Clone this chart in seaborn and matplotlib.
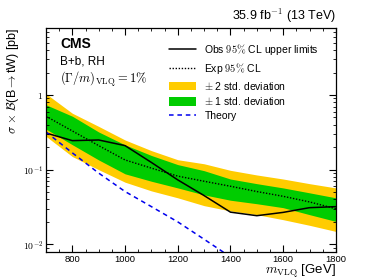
import matplotlib
matplotlib.use('Agg')
import matplotlib.pyplot as plt
from matplotlib.ticker import MultipleLocator, FixedLocator, FixedFormatter, NullFormatter, LogLocator
import pandas as pd
import seaborn as sns

# Data
mass = [700, 800, 900, 1000, 1100, 1200, 1300, 1400, 1500, 1600, 1700, 1800]
obs = [0.31, 0.245, 0.25, 0.21, 0.125, 0.073, 0.045, 0.027, 0.0242, 0.0268, 0.031, 0.032]
exp = [0.52, 0.33, 0.21, 0.135, 0.105, 0.082, 0.07, 0.06, 0.051, 0.044, 0.037, 0.030]
one_up = [0.74, 0.52, 0.32, 0.215, 0.155, 0.117, 0.097, 0.075, 0.065, 0.057, 0.049, 0.042]
one_lo = [0.35, 0.216, 0.135, 0.088, 0.07, 0.057, 0.046, 0.039, 0.035, 0.031, 0.025, 0.0203]
two_up = [1.04, 0.57, 0.38, 0.25, 0.18, 0.136, 0.12, 0.098, 0.085, 0.075, 0.065, 0.057]
two_lo = [0.28, 0.15, 0.10, 0.068, 0.052, 0.042, 0.033, 0.028, 0.025, 0.0214, 0.018, 0.0149]
theory_mass = [700, 800, 900, 1000, 1100, 1200, 1300, 1400]
theory = [0.32, 0.168, 0.09, 0.051, 0.032, 0.020, 0.0117, 0.0068]

df = pd.DataFrame({'mass': mass, 'obs': obs, 'exp': exp})
df_th = pd.DataFrame({'mass': theory_mass, 'theory': theory})

sns.set_style('ticks')
plt.rcParams['font.family'] = ['Liberation Sans', 'DejaVu Sans']
plt.rcParams['mathtext.fontset'] = 'cm'
plt.rcParams['text.color'] = 'black'

fig = plt.figure(figsize=(3.74, 2.80), dpi=100)
ax = fig.add_axes([0.123, 0.1, 0.775, 0.8])
ax.set_axisbelow(False)

ax.fill_between(mass, two_lo, two_up, color='#FFCC00', lw=0, label=r'$\pm$ 2 std. deviation')
ax.fill_between(mass, one_lo, one_up, color='#00CC00', lw=0, label=r'$\pm$ 1 std. deviation')
sns.lineplot(data=df, x='mass', y='exp', ax=ax, color='black', lw=1.0, ls=(0, (1, 1.2)),
             label=r'Exp $95\%$ CL')
sns.lineplot(data=df, x='mass', y='obs', ax=ax, color='black', lw=1.1,
             label=r'Obs $95\%$ CL upper limits')
sns.lineplot(data=df_th, x='mass', y='theory', ax=ax, color='#0000EE', lw=1.1, ls=(0, (3, 2.5)),
             label='Theory')

ax.set_yscale('log')
ax.set_xlim(700, 1800)
ax.set_ylim(0.0079, 7.9)

ax.xaxis.set_major_locator(MultipleLocator(200))
ax.xaxis.set_minor_locator(MultipleLocator(50))
ax.yaxis.set_major_locator(FixedLocator([0.01, 0.1, 1]))
ax.yaxis.set_major_formatter(FixedFormatter([r'$10^{-2}$', r'$10^{-1}$', r'$1$']))
ax.yaxis.set_minor_locator(LogLocator(base=10, subs=range(2, 10)))
ax.yaxis.set_minor_formatter(NullFormatter())
ax.tick_params(which='both', direction='in', top=True, right=True, labelsize=7,
               color='black', labelcolor='black', pad=2)
ax.tick_params(axis='x', labelsize=6.8)
ax.tick_params(which='major', length=5, width=0.8)
ax.tick_params(which='minor', length=2.5, width=0.6)
for s in ax.spines.values():
    s.set_linewidth(0.9)
    s.set_color('black')

ax.set_xlabel(r'$m_{\rm VLQ}$ [GeV]', fontsize=9.5, color='black')
ax.xaxis.set_label_coords(1.0, -0.048)
ax.xaxis.label.set_ha('right')
ax.xaxis.label.set_va('top')
ax.set_ylabel(r'$\sigma$ $\times$ $\mathcal{B}$(B$\rightarrow$tW) [pb]', fontsize=9, loc='top',
              labelpad=1, color='black')

h, l = ax.get_legend_handles_labels()
order = [l.index(r'Obs $95\%$ CL upper limits'), l.index(r'Exp $95\%$ CL'),
         l.index(r'$\pm$ 2 std. deviation'), l.index(r'$\pm$ 1 std. deviation'), l.index('Theory')]
ax.legend([h[i] for i in order], [l[i] for i in order], loc='upper left',
          bbox_to_anchor=(0.41, 0.955), frameon=False, fontsize=7.5,
          handlelength=2.6, handleheight=0.9, labelspacing=0.35, borderaxespad=0, handletextpad=0.8)

ax.text(0.05, 0.958, 'CMS', transform=ax.transAxes, fontsize=10, fontweight='bold', va='top')
ax.text(0.05, 0.878, 'B+b, RH', transform=ax.transAxes, fontsize=8.5, va='top')
ax.text(0.05, 0.812, r'$(\Gamma/m)_{\rm VLQ} = 1\%$', transform=ax.transAxes, fontsize=9, va='top')
ax.text(1.0, 1.015, r'35.9 fb$^{-1}$ (13 TeV)', transform=ax.transAxes, fontsize=9, ha='right', va='bottom')

fig.savefig('out.png', dpi=100)
